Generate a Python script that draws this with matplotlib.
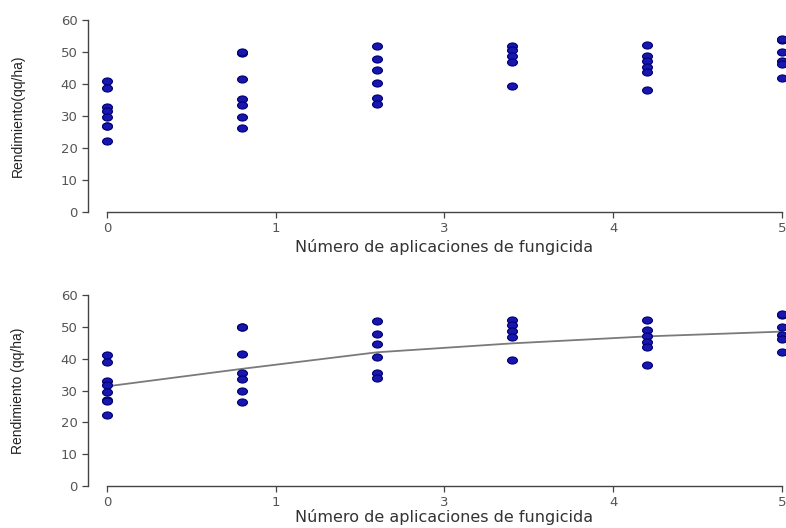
import matplotlib
matplotlib.use("Agg")
import matplotlib.pyplot as plt
from matplotlib.markers import MarkerStyle
from matplotlib.transforms import Affine2D

# Data
groups = [0, 1, 2, 3, 4, 5]
yields = [
    [41.0, 38.8, 32.9, 31.6, 29.6, 27.0, 26.8, 22.2],
    [49.8, 50.0, 41.6, 35.4, 33.5, 29.8, 26.3],
    [51.9, 47.7, 44.5, 40.4, 35.6, 33.8],
    [52.0, 50.5, 48.6, 46.9, 39.5],
    [52.1, 48.9, 47.1, 45.3, 43.6, 38.1],
    [53.8, 54.0, 50.1, 47.3, 46.1, 42.0],
]
fit_y = [31.3, 36.8, 42.0, 44.8, 47.0, 48.5]
tick_pos = [0, 1.25, 2.5, 3.75, 5]
tick_labels = ['0', '1', '3', '4', '5']
ylabels = ['Rendimiento(qq/ha)', 'Rendimiento (qq/ha)']

xlabel = 'Número de aplicaciones de fungicida'

oval = MarkerStyle('o', transform=Affine2D().scale(1.4, 1.0))

fig = plt.figure(figsize=(7.86, 5.28), dpi=100)
ax_top = fig.add_axes([88 / 786, 1 - 212 / 528, 1 - 88 / 786, 192 / 528])
ax_bot = fig.add_axes([88 / 786, 1 - 486 / 528, 1 - 88 / 786, 191 / 528])

# where the x label top sits, in axes coords
xlab_y = [-0.14, -0.122]

for i, ax in enumerate([ax_top, ax_bot]):
    for g, vals in zip(groups, yields):
        ax.scatter([g] * len(vals), vals, marker=oval, s=26,
                   facecolor='#1717b0', edgecolor='#000070', linewidth=0.8,
                   zorder=3, clip_on=False)
    if i == 1:
        ax.plot(groups, fit_y, color='#7a7a7a', linewidth=1.3, zorder=2)

    ax.set_xlim(-0.14, 5.03)
    ax.set_ylim(0, 60)
    ax.spines['top'].set_visible(False)
    ax.spines['right'].set_visible(False)
    ax.spines['left'].set_bounds(0, 60)
    ax.spines['bottom'].set_bounds(0, 5)
    for s in ['left', 'bottom']:
        ax.spines[s].set_color('#444444')
        ax.spines[s].set_linewidth(1.0)
    ax.set_xticks(tick_pos)
    ax.set_xticklabels(tick_labels)
    ax.set_yticks(range(0, 61, 10))
    ax.tick_params(axis='both', colors='#444444', labelcolor='#555555',
                   labelsize=9.5, length=4, width=0.9)
    ax.set_ylabel(ylabels[i], family=['Liberation Sans', 'DejaVu Sans'],
                  fontsize=10, color='#222222')
    ax.yaxis.set_label_coords(-0.09, 0.5)
    ax.set_xlabel(xlabel, fontsize=11.5, color='#333333')
    ax.xaxis.set_label_coords(0.51, xlab_y[i])

fig.savefig('out.png', dpi=100)
